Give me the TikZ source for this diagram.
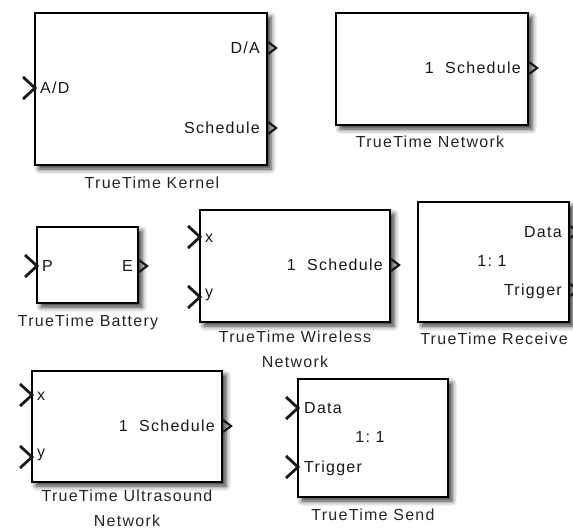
\documentclass[tikz,border=0pt]{standalone}
\usepackage{fontspec}
\setmainfont[LetterSpace=8]{Liberation Sans}
\usetikzlibrary{shadows.blur}

\tikzset{
  block/.style={draw=black, line width=1.5pt, fill=white,
    blur shadow={shadow xshift=4pt, shadow yshift=-4pt, shadow blur radius=5pt, shadow opacity=80}},
  inport/.style={line width=2.8pt, black!90},
  outport/.style={line width=2.2pt, black!90},
  plabel/.style={inner sep=0pt, text=black!90, text height=11.5pt, text depth=0pt,
    font=\fontsize{16}{20}\selectfont},
  blabel/.style={inner sep=0pt, text=black!85, align=center,
    font=\fontsize{16}{25}\selectfont},
}
% chevrons at a port: tip at (x,y)
\newcommand\inchev[2]{\draw[inport] (#1-12,#2-11) -- (#1,#2) -- (#1-12,#2+11);}
\newcommand\outchev[2]{\draw[outport] (#1,#2-6) -- (#1+8,#2) -- (#1,#2+6);}

\begin{document}
\begin{tikzpicture}[x=1pt,y=-1pt]
\useasboundingbox (0,0) rectangle (573,530);

% TrueTime Kernel
\node[block, minimum width=232pt, minimum height=152pt] (kernel) at (151,89) {};
\node[plabel, anchor=west] (kad) at (40,88) {A/D};
\node[plabel, anchor=east] (kda) at (260,48) {D/A};
\node[plabel, anchor=east] (ksch) at (260,128) {Schedule};
\node[blabel] (klab) at (152,183) {TrueTime Kernel};
\inchev{35}{88}
\outchev{268}{48}
\outchev{268}{128}

% TrueTime Network
\node[block, minimum width=192pt, minimum height=112pt] (net) at (432,69) {};
\node[plabel, anchor=east] (nsch) at (521,68) {1\ \ Schedule};
\node[blabel] (nlab) at (430,142) {TrueTime Network};
\outchev{529}{68}

% TrueTime Battery
\node[block, minimum width=101pt, minimum height=76pt] (bat) at (87.5,265) {};
\node[plabel, anchor=west] (bp) at (42,266) {P};
\node[plabel, anchor=east] (be) at (133,266) {E};
\node[blabel] (blab) at (88,322) {TrueTime Battery};
\inchev{37}{266}
\outchev{139}{266}

% TrueTime Wireless Network
\node[block, minimum width=190pt, minimum height=112pt] (wnet) at (295,266) {};
\node[plabel, anchor=west] (wx) at (205,237) {x};
\node[plabel, anchor=west] (wy) at (205,292) {y};
\node[plabel, anchor=east] (wsch) at (383,265) {1\ \ Schedule};
\node[blabel, anchor=north] (wlab) at (295,331) {TrueTime Wireless\\Network};
\inchev{200}{237}
\inchev{200}{297}
\outchev{391}{265}

% TrueTime Receive
\node[block, minimum width=151pt, minimum height=120pt] (recv) at (493.5,262) {};
\node[plabel, anchor=east] (rdata) at (562,232) {Data};
\node[plabel, anchor=east] (rtrig) at (562,290) {Trigger};
\node[plabel] (rmid) at (492,261) {1:\ 1};
\node[blabel] (rlab) at (494,339) {TrueTime Receive};
\outchev{570}{232}
\outchev{570}{290}

% TrueTime Ultrasound Network
\node[block, minimum width=190pt, minimum height=111pt] (unet) at (127,426.5) {};
\node[plabel, anchor=west] (ux) at (37,395) {x};
\node[plabel, anchor=west] (uy) at (37,452) {y};
\node[plabel, anchor=east] (usch) at (215,426) {1\ \ Schedule};
\node[blabel, anchor=north] (ulab) at (127,490) {TrueTime Ultrasound\\Network};
\inchev{32}{395}
\inchev{32}{457}
\outchev{223}{426}

% TrueTime Send
\node[block, minimum width=150pt, minimum height=118pt] (send) at (373,438) {};
\node[plabel, anchor=west] (sdata) at (304,408) {Data};
\node[plabel, anchor=west] (strig) at (304,467) {Trigger};
\node[plabel] (smid) at (370,437) {1:\ 1};
\node[blabel] (slab) at (373,515) {TrueTime Send};
\inchev{298}{408}
\inchev{298}{467}

\end{tikzpicture}
\end{document}
